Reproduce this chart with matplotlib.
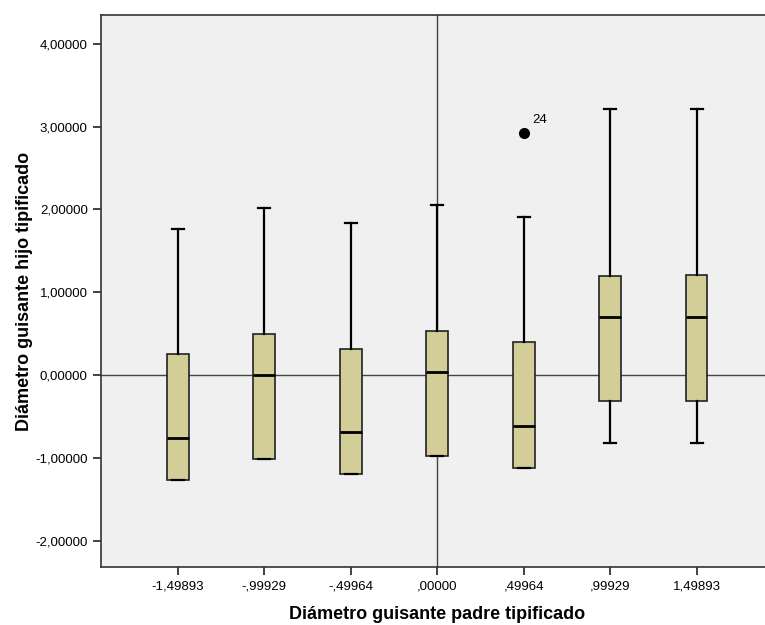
import matplotlib.pyplot as plt

# Diámetro guisante padre tipificado (grupos)
categorias = ["-1,49893", "-,99929", "-,49964", ",00000", ",49964", ",99929", "1,49893"]

# resumen de cada caja
bigote_inf = [-1.27, -1.01, -1.20, -0.98, -1.12, -0.82, -0.82]
q1 = [-1.27, -1.01, -1.20, -0.98, -1.12, -0.31, -0.31]
mediana = [-0.765, 0.0, -0.685, 0.035, -0.615, 0.70, 0.70]
q3 = [0.25, 0.50, 0.32, 0.535, 0.395, 1.20, 1.21]
bigote_sup = [1.76, 2.02, 1.84, 2.05, 1.91, 3.22, 3.22]
atipicos = [[], [], [], [], [2.92], [], []]
etiquetas_atipicos = [[], [], [], [], ["24"], [], []]

y_ticks = [-2, -1, 0, 1, 2, 3, 4]
y_tick_labels = ["-2,00000", "-1,00000", "0,00000", "1,00000", "2,00000", "3,00000", "4,00000"]

plt.rcParams['font.family'] = ['Liberation Sans', 'DejaVu Sans']

fig = plt.figure(figsize=(7.65, 6.25), dpi=100)
ax = fig.add_axes([101 / 765, 58 / 625, 672.4 / 765, 552 / 625])
ax.set_facecolor('#F0F0F0')

stats = []
for i in range(len(categorias)):
    stats.append({
        'whislo': bigote_inf[i], 'q1': q1[i], 'med': mediana[i],
        'q3': q3[i], 'whishi': bigote_sup[i], 'fliers': atipicos[i],
    })

posiciones = list(range(len(categorias)))

ax.axhline(0, color='#444444', lw=1.0, zorder=1)
ax.axvline(3, color='#444444', lw=1.0, zorder=1)

ax.bxp(stats, positions=posiciones, widths=0.25, patch_artist=True,
       boxprops=dict(facecolor='#D3CE97', edgecolor='#222222', lw=1.2),
       medianprops=dict(color='black', lw=2),
       whiskerprops=dict(color='black', lw=1.6),
       capprops=dict(color='black', lw=1.6),
       capwidths=0.14,
       flierprops=dict(marker='o', markerfacecolor='black', markeredgecolor='black',
                       markersize=7, linestyle='none'),
       zorder=2)

for i, vals in enumerate(atipicos):
    for v, et in zip(vals, etiquetas_atipicos[i]):
        ax.annotate(et, (posiciones[i], v), xytext=(6, 5), textcoords='offset points',
                    fontsize=9.5, ha='left', va='bottom')

ax.set_xlim(-0.887, 6.887)
ax.set_ylim(-2.32, 4.35)
ax.set_xticks(posiciones)
ax.set_xticklabels(categorias, fontsize=9.5)
ax.set_yticks(y_ticks)
ax.set_yticklabels(y_tick_labels, fontsize=9.5)
ax.tick_params(direction='out', length=6, width=1.2, color='#222222')

for s in ax.spines.values():
    s.set_linewidth(1.2)
    s.set_color('#333333')

ax.set_xlabel("Diámetro guisante padre tipificado", fontsize=13, fontweight='bold', labelpad=10)
ax.set_ylabel("Diámetro guisante hijo tipificado", fontsize=13, fontweight='bold', labelpad=2)

fig.savefig('out.png', dpi=100)
